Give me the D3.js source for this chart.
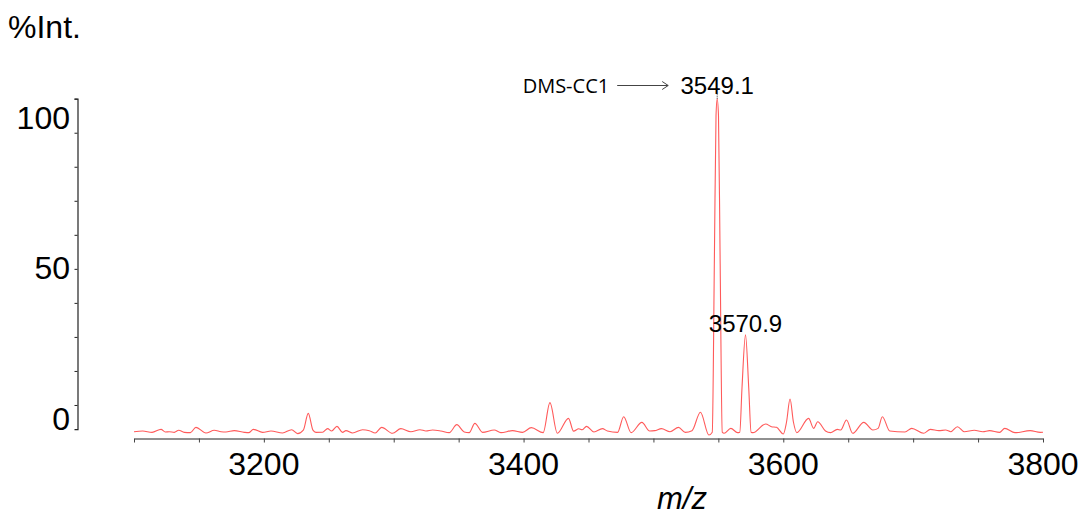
<!DOCTYPE html>
<html>
<head>
<meta charset="utf-8">
<script src="https://cdn.jsdelivr.net/npm/d3@7"></script>
<style>
  body { margin: 0; background: #fff; }
  svg { display: block; font-family: Arial, "Liberation Sans", sans-serif; }
</style>
</head>
<body>
<svg id="chart" width="1083" height="515"></svg>
<script>
// spectrum trace (m/z, %Int.)
var mz = [3100, 3106.7, 3113.9, 3120.8, 3124.1, 3127.2, 3131, 3134.4, 3138.7, 3143.4,
  3147.7, 3155.4, 3161.8, 3167, 3170.8, 3177.2, 3184.9, 3188.3, 3191.9, 3199,
  3205.5, 3214.4, 3221.4, 3226, 3230.4, 3234.2, 3237.8, 3240.1, 3245.2, 3249.1,
  3252.2, 3256.3, 3260.6, 3263.2, 3268.3, 3276, 3281.2, 3285.8, 3290.7, 3299.1,
  3305.5, 3313.2, 3320.2, 3324.8, 3329.9, 3336.3, 3342.7, 3348.6, 3354.3, 3358.1,
  3362.5, 3368.4, 3377.4, 3382.5, 3391.5, 3399.2, 3406, 3415.1, 3420.3, 3426,
  3434.6, 3438.5, 3442.5, 3445, 3448.5, 3454.2, 3460.7, 3464.6, 3472.4, 3477.1,
  3482.8, 3491.1, 3497.1, 3501, 3506.2, 3512.8, 3519.3, 3524.5, 3529.7, 3536.2,
  3542.7, 3545.3, 3547, 3548.2, 3549.1, 3550.1, 3551.3, 3553, 3554.4, 3559.6,
  3564.8, 3566.5, 3568.2, 3570.9, 3573.4, 3575.2, 3576.6, 3586.4, 3590.9, 3594.8,
  3600, 3602.5, 3605.2, 3607.8, 3610.4, 3619.5, 3623.4, 3626.5, 3632.5, 3636.4,
  3641.6, 3644.2, 3648.7, 3653.4, 3662, 3669, 3673, 3676.3, 3682, 3693.7,
  3698.9, 3708, 3713.3, 3719.8, 3725, 3729, 3734.1, 3739.3, 3747.1, 3753.6,
  3758.8, 3766.6, 3770.5, 3778.4, 3790.1, 3797.9, 3800];
var intensity = [2.15, 2.35, 1.96, 2.84, 2.06, 2.15, 1.96, 2.55, 1.96, 1.86,
  3.43, 1.76, 2.55, 2.15, 2.06, 2.45, 1.96, 1.86, 2.84, 1.96,
  2.35, 1.76, 2.74, 1.57, 2.6, 7.54, 2.6, 1.96, 2.0, 3.04,
  2.35, 3.72, 1.96, 2.45, 1.76, 2.74, 2.45, 1.76, 3.43, 1.67,
  3.04, 2.15, 2.74, 2.35, 2.64, 2.35, 1.86, 4.21, 2.06, 1.86,
  4.6, 1.96, 2.64, 1.86, 2.45, 1.96, 3.33, 1.86, 10.68, 1.67,
  6.07, 2.3, 3.0, 2.7, 3.7, 2.06, 3.04, 2.35, 1.96, 6.56,
  1.86, 4.9, 2.35, 2.45, 3.04, 2.15, 3.43, 1.96, 2.45, 7.84,
  1.18, 2, 55, 95, 100, 95, 55, 2, 1.67, 3.13,
  1.86, 2, 15, 30.6, 15, 2, 1.86, 4.41, 3.62, 3.43,
  1.47, 5, 11.75, 5, 1.86, 6.07, 3.13, 5.09, 2.35, 1.86,
  2.84, 2.64, 5.58, 1.67, 4.9, 2.64, 3.13, 6.56, 2.35, 2.06,
  3.13, 1.67, 2.84, 2.45, 2.64, 2.15, 3.62, 2.15, 2.55, 2.15,
  2.45, 1.96, 3.13, 1.86, 2.45, 1.96, 2.0];

// labelled peaks
var peakMz = [3549.1, 3570.9];
var peakInt = [100, 30.6];
var peakText = ["3549.1", "3570.9"];

// axes
var xTicks = [3100, 3150, 3200, 3250, 3300, 3350, 3400, 3450, 3500, 3550, 3600, 3650, 3700, 3750, 3800];
var xTickLabels = [3200, 3400, 3600, 3800];
var yTicks = [100, 90, 80, 70, 60, 50, 40, 30, 20, 10];
var yTickLabels = [0, 50, 100];

var svg = d3.select("#chart");

var x = d3.scaleLinear().domain([3100, 3800]).range([134, 1043]);
var y = d3.scaleLinear().domain([0, 100]).range([439, 98.7]);
// the intensity labels sit a little apart from the tick marks in the original
var yLab = d3.scaleLinear().domain([0, 100]).range([418.5, 117.5]);

// x axis
var xAxis = d3.axisBottom(x).tickValues(xTicks).tickSize(4).tickSizeOuter(0).tickFormat("");
var gx = svg.append("g").attr("transform", "translate(0,438.5)").call(xAxis);
gx.select(".domain").attr("stroke", "#222").attr("stroke-width", 1.2);
gx.selectAll(".tick line").attr("stroke", "#444");

svg.append("g").selectAll("text")
  .data(xTickLabels)
  .enter().append("text")
  .attr("x", function(d){ return x(d); })
  .attr("y", 475)
  .attr("text-anchor", "middle")
  .attr("font-size", 32)
  .attr("fill", "#000")
  .text(function(d){ return d; });

svg.append("text")
  .attr("x", 682)
  .attr("y", 509)
  .attr("text-anchor", "middle")
  .attr("font-size", 31)
  .attr("font-style", "italic")
  .text("m/z");

// y axis
var yAxisScale = y.copy().domain([2.9, 100]).range([y(2.9), y(100)]);
var yAxis = d3.axisLeft(yAxisScale).tickValues(yTicks).tickSize(3).tickSizeOuter(3).tickFormat("");
var gy = svg.append("g").attr("transform", "translate(77.5,0)").call(yAxis);
gy.select(".domain").attr("stroke", "#222").attr("stroke-width", 1.2);
gy.selectAll(".tick line").attr("stroke", "#222");

svg.append("g").selectAll("text")
  .data(yTickLabels)
  .enter().append("text")
  .attr("x", 70)
  .attr("y", function(d){ return yLab(d) + 11.3; })
  .attr("text-anchor", "end")
  .attr("font-size", 32)
  .text(function(d){ return d; });

svg.append("text")
  .attr("x", 8)
  .attr("y", 38)
  .attr("font-size", 32)
  .text("%Int.");

// spectrum
var pts = mz.map(function(m, i){ return [m, intensity[i]]; });
var line = d3.line()
  .x(function(d){ return x(d[0]); })
  .y(function(d){ return y(d[1]); })
  .curve(d3.curveMonotoneX);

svg.append("path")
  .datum(pts)
  .attr("d", line)
  .attr("fill", "none")
  .attr("stroke", "#ff5a5a")
  .attr("stroke-width", 1.1);

// peak labels
svg.append("g").selectAll("text")
  .data(peakMz)
  .enter().append("text")
  .attr("x", function(d){ return x(d); })
  .attr("y", function(d, i){ return y(peakInt[i]) - (i === 0 ? 5 : 3); })
  .attr("text-anchor", "middle")
  .attr("font-size", 24)
  .text(function(d, i){ return peakText[i]; });

// small marker from label to the base peak
svg.append("line")
  .attr("x1", x(peakMz[0])).attr("x2", x(peakMz[0]))
  .attr("y1", y(peakInt[0]) - 5).attr("y2", y(peakInt[0]))
  .attr("stroke", "#333").attr("stroke-dasharray", "1,1");

// DMS-CC1 annotation with arrow
var ax = x(peakMz[0]) - 49, ay = 85.5;
svg.append("line")
  .attr("x1", ax - 51).attr("x2", ax)
  .attr("y1", ay).attr("y2", ay)
  .attr("stroke", "#444").attr("stroke-width", 1);
svg.append("path")
  .attr("d", "M" + (ax - 6) + "," + (ay - 4) + "L" + ax + "," + ay + "L" + (ax - 6) + "," + (ay + 4))
  .attr("fill", "none").attr("stroke", "#444").attr("stroke-width", 1);
svg.append("text")
  .attr("x", ax - 59)
  .attr("y", 93)
  .attr("text-anchor", "end")
  .attr("font-family", "'Open Sans', 'Noto Sans', sans-serif")
  .attr("font-size", 20)
  .text("DMS-CC1");
</script>
</body>
</html>
